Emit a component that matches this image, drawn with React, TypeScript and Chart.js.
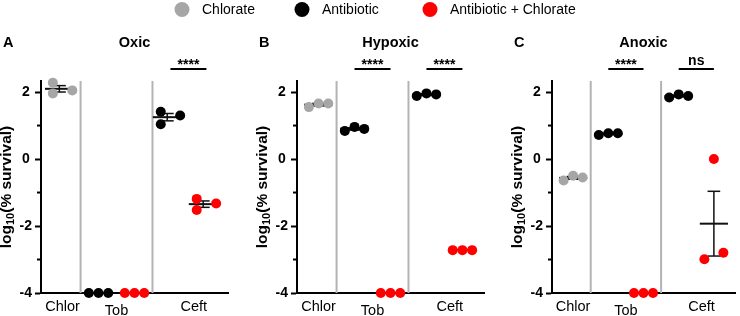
import React, { useEffect, useRef } from 'react';
import { Chart, registerables } from 'chart.js';

Chart.register(...registerables);

const W = 740;
const H = 316;
const FONT = "'Liberation Sans', Arial, Helvetica, sans-serif";

// Series shown in the shared legend
const SERIES_NAMES = ['Chlorate', 'Antibiotic', 'Antibiotic + Chlorate'];
const SERIES_COLORS = ['#a6a6a6', '#000000', '#ff0000'];

// Drug labels under the x axis and the column slot each sits under
const DRUGS = ['Chlor', 'Tob', 'Ceft'];
const DRUG_SLOTS = [0, 1.5, 3.65];
// Vertical separators between drug blocks (in slot units)
const SEPARATORS = [0.5, 2.5];

// y axis ticks (log10 % survival); only the even ones carry a label
const Y_TICKS = [-4, -3, -2, -1, 0, 1, 2];
const Y_LABELED = [-4, -2, 0, 2];

// horizontal placement of the three replicates inside one column
const SPREAD = [-0.27, 0, 0.27];
const STACKED = [-0.27, -0.27, 0.27];

// Oxic — log10(% survival), three replicates per column
const OXIC_CHLOR = [2.28, 1.96, 2.05];
const OXIC_TOB_AB = [-4, -4, -4];
const OXIC_TOB_AB_CHL = [-4, -4, -4];
const OXIC_CEFT_AB = [1.41, 1.04, 1.3];
const OXIC_CEFT_AB_CHL = [-1.19, -1.52, -1.33];

// Hypoxic
const HYPOXIC_CHLOR = [1.55, 1.66, 1.66];
const HYPOXIC_TOB_AB = [0.84, 0.96, 0.9];
const HYPOXIC_TOB_AB_CHL = [-4, -4, -4];
const HYPOXIC_CEFT_AB = [1.88, 1.96, 1.93];
const HYPOXIC_CEFT_AB_CHL = [-2.72, -2.72, -2.72];

// Anoxic
const ANOXIC_CHLOR = [-0.64, -0.5, -0.55];
const ANOXIC_TOB_AB = [0.72, 0.77, 0.77];
const ANOXIC_TOB_AB_CHL = [-4, -4, -4];
const ANOXIC_CEFT_AB = [1.84, 1.93, 1.88];
const ANOXIC_CEFT_AB_CHL = [-2.99, 0.0, -2.8];

// Significance brackets: between column slots
const OXIC_SIG = [{ from: 3, to: 4, label: '****' }];
const HYPOXIC_SIG = [
  { from: 1, to: 2, label: '****' },
  { from: 3, to: 4, label: '****' },
];
const ANOXIC_SIG = [
  { from: 1, to: 2, label: '****' },
  { from: 3, to: 4, label: 'ns' },
];

type Column = { slot: number; series: number; values: number[]; offsets: number[] };
type Sig = { from: number; to: number; label: string };
type Panel = { letter: string; title: string; left: number; columns: Column[]; sig: Sig[] };

const PANELS: Panel[] = [
  {
    letter: 'A',
    title: 'Oxic',
    left: 0,
    columns: [
      { slot: 0, series: 0, values: OXIC_CHLOR, offsets: STACKED },
      { slot: 1, series: 1, values: OXIC_TOB_AB, offsets: SPREAD },
      { slot: 2, series: 2, values: OXIC_TOB_AB_CHL, offsets: SPREAD },
      { slot: 3, series: 1, values: OXIC_CEFT_AB, offsets: STACKED },
      { slot: 4, series: 2, values: OXIC_CEFT_AB_CHL, offsets: STACKED },
    ],
    sig: OXIC_SIG,
  },
  {
    letter: 'B',
    title: 'Hypoxic',
    left: 256,
    columns: [
      { slot: 0, series: 0, values: HYPOXIC_CHLOR, offsets: SPREAD },
      { slot: 1, series: 1, values: HYPOXIC_TOB_AB, offsets: SPREAD },
      { slot: 2, series: 2, values: HYPOXIC_TOB_AB_CHL, offsets: SPREAD },
      { slot: 3, series: 1, values: HYPOXIC_CEFT_AB, offsets: SPREAD },
      { slot: 4, series: 2, values: HYPOXIC_CEFT_AB_CHL, offsets: SPREAD },
    ],
    sig: HYPOXIC_SIG,
  },
  {
    letter: 'C',
    title: 'Anoxic',
    left: 511,
    columns: [
      { slot: 0, series: 0, values: ANOXIC_CHLOR, offsets: SPREAD },
      { slot: 1, series: 1, values: ANOXIC_TOB_AB, offsets: SPREAD },
      { slot: 2, series: 2, values: ANOXIC_TOB_AB_CHL, offsets: SPREAD },
      { slot: 3, series: 1, values: ANOXIC_CEFT_AB, offsets: SPREAD },
      { slot: 4, series: 2, values: ANOXIC_CEFT_AB_CHL, offsets: SPREAD },
    ],
    sig: ANOXIC_SIG,
  },
];

const AXIS_W = 41; // width reserved for y ticks + title
const PLOT_W = 187;
const PLOT_TOP = 81;
const X_AXIS_H = 23;

function line(ctx: CanvasRenderingContext2D, x1: number, y1: number, x2: number, y2: number) {
  ctx.beginPath();
  ctx.moveTo(x1, y1);
  ctx.lineTo(x2, y2);
  ctx.stroke();
}

function meanSem(values: number[]) {
  const n = values.length;
  const mean = values.reduce((s, v) => s + v, 0) / n;
  const sd = Math.sqrt(values.reduce((s, v) => s + (v - mean) ** 2, 0) / (n - 1));
  return { mean, sem: sd / Math.sqrt(n) };
}

function drawYTitle(ctx: CanvasRenderingContext2D, cx: number, cy: number) {
  const big = `bold 15.5px ${FONT}`;
  const small = `bold 11px ${FONT}`;
  const parts: [string, string, number][] = [
    ['log', big, 0],
    ['10', small, 3.5],
    ['(% survival)', big, 0],
  ];
  ctx.save();
  ctx.translate(cx, cy);
  ctx.rotate(-Math.PI / 2);
  ctx.fillStyle = '#000';
  ctx.textAlign = 'left';
  ctx.textBaseline = 'middle';
  const widths = parts.map(([t, f]) => {
    ctx.font = f;
    return ctx.measureText(t).width;
  });
  let x = -widths.reduce((s, w) => s + w, 0) / 2;
  parts.forEach(([t, f, dy], i) => {
    ctx.font = f;
    ctx.fillText(t, x, dy);
    x += widths[i];
  });
  ctx.restore();
}

// legend circle centres
const LEGEND_X = [182, 302, 430];

function drawLegend(ctx: CanvasRenderingContext2D) {
  ctx.save();
  ctx.font = `14px ${FONT}`;
  ctx.textAlign = 'left';
  ctx.textBaseline = 'middle';
  SERIES_NAMES.forEach((name, i) => {
    ctx.fillStyle = SERIES_COLORS[i];
    ctx.beginPath();
    ctx.arc(LEGEND_X[i], 9.5, 7.5, 0, Math.PI * 2);
    ctx.fill();
    ctx.fillStyle = '#000';
    ctx.fillText(name, LEGEND_X[i] + 20, 10.5);
  });
  ctx.restore();
}

function makePlugin(panel: Panel, withLegend: boolean) {
  return {
    id: 'panelDecor' + panel.letter,
    beforeDatasetsDraw(chart: any) {
      const { ctx, chartArea: a } = chart;
      const x = chart.scales.x;
      const y = chart.scales.y;
      ctx.save();
      // block separators
      ctx.strokeStyle = '#b3b3b3';
      ctx.lineWidth = 2;
      SEPARATORS.forEach((s) => {
        const px = x.getPixelForValue(s);
        line(ctx, px, a.top, px, a.bottom);
      });
      // minor ticks
      ctx.strokeStyle = '#000';
      ctx.lineWidth = 2;
      Y_TICKS.filter((v) => !Y_LABELED.includes(v)).forEach((v) => {
        const py = y.getPixelForValue(v);
        line(ctx, a.left - 4, py, a.left, py);
      });
      // mean with SEM error bars
      panel.columns.forEach((col) => {
        const { mean, sem } = meanSem(col.values);
        const cxv = col.offsets.reduce((s, o) => s + col.slot + o, 0) / col.offsets.length;
        const pm = y.getPixelForValue(mean);
        const pt = y.getPixelForValue(mean + sem);
        const pb = y.getPixelForValue(mean - sem);
        ctx.strokeStyle = '#111';
        ctx.lineWidth = 2;
        line(ctx, x.getPixelForValue(cxv - 0.4), pm, x.getPixelForValue(cxv + 0.4), pm);
        ctx.lineWidth = 1.5;
        const pc = x.getPixelForValue(cxv);
        line(ctx, pc, pt, pc, pb);
        line(ctx, x.getPixelForValue(cxv - 0.18), pt, x.getPixelForValue(cxv + 0.18), pt);
        line(ctx, x.getPixelForValue(cxv - 0.18), pb, x.getPixelForValue(cxv + 0.18), pb);
      });
      ctx.restore();
    },
    afterDraw(chart: any) {
      const { ctx, chartArea: a } = chart;
      const x = chart.scales.x;
      ctx.save();
      ctx.fillStyle = '#000';
      // panel letter and title
      ctx.font = `bold 14.5px ${FONT}`;
      ctx.textBaseline = 'alphabetic';
      ctx.textAlign = 'left';
      ctx.fillText(panel.letter, a.left - 38, a.top - 34);
      ctx.textAlign = 'center';
      ctx.fillText(panel.title, (a.left + a.right) / 2, a.top - 34);
      // y axis title
      drawYTitle(ctx, a.left - 34, (a.top + a.bottom) / 2);
      // drug labels
      ctx.font = `14.5px ${FONT}`;
      ctx.textAlign = 'center';
      DRUGS.forEach((d, i) => {
        const drop = d === 'Tob' ? 4 : 0;
        ctx.fillText(d, x.getPixelForValue(DRUG_SLOTS[i]), a.bottom + 18 + drop);
      });
      // significance brackets
      const barY = a.top - 12;
      panel.sig.forEach((s) => {
        const x1 = x.getPixelForValue(s.from);
        const x2 = x.getPixelForValue(s.to);
        ctx.strokeStyle = '#000';
        ctx.lineWidth = 2;
        line(ctx, x1, barY, x2, barY);
        ctx.font = `bold 14px ${FONT}`;
        const m = ctx.measureText(s.label);
        ctx.fillText(s.label, (x1 + x2) / 2, barY - 4 - m.actualBoundingBoxDescent);
      });
      ctx.restore();
      if (withLegend) drawLegend(ctx);
    },
  };
}

function buildChart(canvas: HTMLCanvasElement, panel: Panel, withLegend: boolean) {
  const datasets = panel.columns.map((col) => ({
    label: SERIES_NAMES[col.series],
    data: col.values.map((v, i) => ({ x: col.slot + col.offsets[i], y: v })),
    backgroundColor: SERIES_COLORS[col.series],
    borderWidth: 0,
    pointRadius: 5,
    pointHoverRadius: 5,
    clip: false as any,
  }));
  const padRight = W - (panel.left + AXIS_W + PLOT_W);
  return new Chart(canvas, {
    type: 'scatter',
    data: { datasets },
    options: {
      animation: false,
      responsive: false,
      devicePixelRatio: 1,
      events: [],
      layout: { padding: { left: panel.left, right: padRight, top: PLOT_TOP, bottom: 0 } },
      plugins: { legend: { display: false }, tooltip: { enabled: false }, title: { display: false } },
      scales: {
        x: {
          type: 'linear',
          position: 'bottom',
          min: -0.6,
          max: 4.6,
          grid: { display: false, drawTicks: false },
          border: { display: true, color: '#000', width: 2 },
          ticks: { display: false },
          afterFit: (s: any) => {
            s.height = X_AXIS_H;
          },
        },
        y: {
          type: 'linear',
          min: -4,
          max: 2.33,
          afterBuildTicks: (s: any) => {
            s.ticks = Y_TICKS.map((v) => ({ value: v }));
          },
          afterFit: (s: any) => {
            s.width = AXIS_W;
          },
          grid: {
            display: true,
            drawOnChartArea: false,
            drawTicks: true,
            tickLength: 6,
            tickWidth: 2,
            tickColor: (c: any) => (Y_LABELED.includes(c.tick?.value) ? '#000' : 'rgba(0,0,0,0)'),
          },
          border: { display: true, color: '#000', width: 2 },
          ticks: {
            color: '#000',
            padding: 3,
            crossAlign: 'center',
            font: { family: FONT, size: 14, weight: 'bold' },
            callback: (v: any) => (Y_LABELED.includes(Number(v)) ? String(v) : ''),
          },
        },
      },
    },
    plugins: [makePlugin(panel, withLegend)],
  } as any);
}

export default function App() {
  const refA = useRef<HTMLCanvasElement>(null);
  const refB = useRef<HTMLCanvasElement>(null);
  const refC = useRef<HTMLCanvasElement>(null);

  useEffect(() => {
    document.body.style.margin = '0';
    const refs = [refA, refB, refC];
    const charts = PANELS.map((p, i) => buildChart(refs[i].current as HTMLCanvasElement, p, i === 0));
    return () => charts.forEach((c) => c.destroy());
  }, []);

  const style: React.CSSProperties = { position: 'absolute', left: 0, top: 0, width: W, height: H };
  return (
    <div style={{ position: 'relative', width: W, height: H, background: '#fff' }}>
      <canvas ref={refA} width={W} height={H} style={style} />
      <canvas ref={refB} width={W} height={H} style={style} />
      <canvas ref={refC} width={W} height={H} style={style} />
    </div>
  );
}
